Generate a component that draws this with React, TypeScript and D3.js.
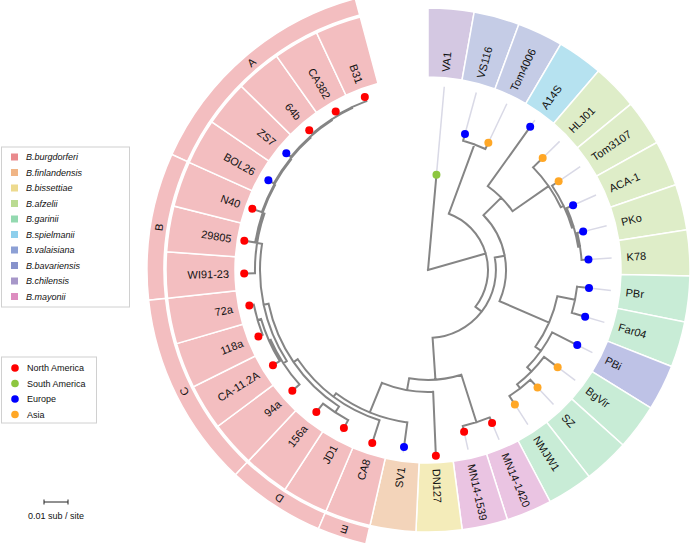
import React from 'react';
import * as d3 from 'd3';

// ---------------- data ----------------
const tipNames = ["VA1","VS116","Tom4006","A14S","HLJ01","Tom3107","ACA-1","PKo","K78","PBr","Far04","PBi","BgVir","SZ","NMJW1","MN14-1420","MN14-1539","DN127","SV1","CA8","JD1","156a","94a","CA-11.2A","118a","72a","WI91-23","29805","N40","BOL26","ZS7","64b","CA382","B31"];
const tipSpecies = ["B.chilensis","B.valaisiana","B.valaisiana","B.spielmanii","B.afzelii","B.afzelii","B.afzelii","B.afzelii","B.afzelii","B.garinii","B.garinii","B.bavariensis","B.garinii","B.garinii","B.garinii","B.mayonii","B.mayonii","B.bissettiae","B.finlandensis","B.burgdorferi","B.burgdorferi","B.burgdorferi","B.burgdorferi","B.burgdorferi","B.burgdorferi","B.burgdorferi","B.burgdorferi","B.burgdorferi","B.burgdorferi","B.burgdorferi","B.burgdorferi","B.burgdorferi","B.burgdorferi","B.burgdorferi"];
const tipRegion = ["South America","Europe","Asia","Europe","Asia","Asia","Europe","Europe","Europe","Europe","Europe","Europe","Asia","Asia","Asia","North America","North America","North America","Europe","North America","North America","North America","North America","North America","North America","North America","North America","North America","North America","Europe","Europe","North America","North America","North America"];

// subtrees (Newick, branch lengths in substitutions / site)
const bbHigh = "(WI91-23:0.0045,(29805:0.0046,(N40:0.0042,(BOL26:0.0026,(ZS7:0.0024,(64b:0.0019,(CA382:0.0015,B31:0.0018):0.0004):0.0004):0.0004):0.0004):0.0004):0.0008)";
const bbLow = "(94a:0.004,(CA-11.2A:0.0033,(118a:0.0019,72a:0.0019):0.0015):0.0008)";
const bbSensuStricto = "(CA8:0.0099,((JD1:0.0038,156a:0.0045):0.0029,(" + bbLow + ":0.0017," + bbHigh + ":0.0021):0.0021):0.0021)";
const northAmerican = "((MN14-1420:0.0025,MN14-1539:0.0025):0.0208,(DN127:0.0267,(SV1:0.0103," + bbSensuStricto + ":0.0017):0.0133):0.005)";
const afzelii = "(HLJ01:0.0056,(Tom3107:0.0033,(ACA-1:0.0029,(PKo:0.0025,K78:0.0029):0.0008):0.0008):0.0013)";
const gariniiGroup = "((PBr:0.005,Far04:0.0058):0.0075,(PBi:0.0117,(BgVir:0.0071,(SZ:0.0044,NMJW1:0.0042):0.0021):0.0025):0.0029)";
const eurasian = "((A14S:0.0304," + afzelii + ":0.0183):0.0104," + gariniiGroup + ":0.0225)";
const newick = "(VA1:0.0398,((VS116:0.0029,Tom4006:0.0029):0.0308,(" + eurasian + ":0.0042," + northAmerican + ":0.0175):0.0033):0.025);";

const cladeNames = ["A","B","C","D","E"];
const cladeFirstTip = ["BOL26","WI91-23","94a","156a","CA8"];
const cladeLastTip = ["B31","N40","72a","JD1","CA8"];

const speciesList = ["B.burgdorferi","B.finlandensis","B.bissettiae","B.afzelii","B.garinii","B.spielmanii","B.valaisiana","B.bavariensis","B.chilensis","B.mayonii"];
const regionList = ["North America","South America","Europe","Asia"];

const scaleBarValue = 0.01;
const scaleBarLabel = "0.01 sub / site";

// ---------------- styles ----------------
const speciesColor: Record<string, string> = {
  "B.burgdorferi": "#E98A8D", "B.finlandensis": "#F0B586", "B.bissettiae": "#EDDA8E", "B.afzelii": "#BADB92",
  "B.garinii": "#93D9B0", "B.spielmanii": "#8ECFEC", "B.valaisiana": "#8DA0D5", "B.bavariensis": "#8792CB",
  "B.chilensis": "#A797C9", "B.mayonii": "#DD8DC0",
};
const ringColor: Record<string, string> = {
  "B.burgdorferi": "#F3BEC0", "B.finlandensis": "#F3D4BA", "B.bissettiae": "#F4ECBA", "B.afzelii": "#DEEDC8",
  "B.garinii": "#C8ECD6", "B.spielmanii": "#B6E2F0", "B.valaisiana": "#C5CCE6", "B.bavariensis": "#BEC2E6",
  "B.chilensis": "#D4C8E2", "B.mayonii": "#EAC4E2",
};
const regionColor: Record<string, string> = {
  "North America": "#FF0000", "South America": "#8DC63F", "Europe": "#0000FF", "Asia": "#FFA726",
};

const W = 691, H = 543;
const CX = 428, CY = 270;
const PX_PER_SUB = 2400;
const OPEN = 15; // open angle in degrees
const R_LABEL_IN = 193, R_LABEL_OUT = 262;
const R_CLADE_IN = 264, R_CLADE_OUT = 281;
const R_ALIGN = 184;
const FONT = "Arial, 'Liberation Sans', Helvetica, sans-serif";

type TNode = { name: string; length: number; children: TNode[] };

function parseNewick(s: string): TNode {
  let i = 0;
  function node(): TNode {
    const n: TNode = { name: "", length: 0, children: [] };
    if (s[i] === "(") {
      i++;
      n.children.push(node());
      while (s[i] === ",") { i++; n.children.push(node()); }
      i++;
    }
    let name = "";
    while (i < s.length && !",():;".includes(s[i])) name += s[i++];
    n.name = name.trim();
    if (s[i] === ":") {
      i++;
      let l = "";
      while (i < s.length && !",();".includes(s[i])) l += s[i++];
      n.length = parseFloat(l);
    }
    return n;
  }
  return node();
}

const rad = (deg: number) => (deg * Math.PI) / 180;
const pt = (ang: number, r: number): [number, number] => [CX + r * Math.sin(rad(ang)), CY - r * Math.cos(rad(ang))];

export default function App() {
  const root = d3.hierarchy<TNode>(parseNewick(newick), (d) => (d.children.length ? d.children : null));
  d3.cluster<TNode>().size([360 - OPEN, 1]).separation(() => 1)(root);
  const radius = new Map<any, number>();
  root.each((n) => {
    radius.set(n, n.parent ? (radius.get(n.parent) as number) + n.data.length * PX_PER_SUB : 0);
  });
  const leaves = root.leaves();
  const step = (360 - OPEN) / leaves.length;
  const tipAngle = new Map<string, number>();
  leaves.forEach((l) => tipAngle.set(l.data.name, l.x as number));

  const branchPaths: string[] = [];
  root.each((n) => {
    const r = radius.get(n) as number;
    const a = n.x as number;
    if (n.parent) {
      const rp = radius.get(n.parent) as number;
      const [x0, y0] = pt(a, rp);
      const [x1, y1] = pt(a, r);
      branchPaths.push(`M${x0},${y0}L${x1},${y1}`);
    }
    if (n.children && n.children.length > 1 && n.parent) {
      const a0 = n.children[0].x as number;
      const a1 = n.children[n.children.length - 1].x as number;
      const [x0, y0] = pt(a0, r);
      const [x1, y1] = pt(a1, r);
      branchPaths.push(`M${x0},${y0}A${r},${r} 0 ${a1 - a0 > 180 ? 1 : 0} 1 ${x1},${y1}`);
    }
  });

  const ringArc = d3.arc<any>();
  const legendY0 = 157, legendDY = 15.5;
  const regionY0 = 368, regionDY = 15.5;

  return (
    <svg width={W} height={H} style={{ position: "absolute", left: 0, top: 0, background: "#fff" }} fontFamily={FONT}>
      {/* tip ring */}
      {tipNames.map((name, i) => {
        const a = tipAngle.get(name) as number;
        return (
          <path key={"seg" + name}
            d={ringArc({ innerRadius: R_LABEL_IN, outerRadius: R_LABEL_OUT, startAngle: rad(a - step / 2), endAngle: rad(a + step / 2) }) as string}
            transform={`translate(${CX},${CY})`} fill={ringColor[tipSpecies[i]]} stroke="#fff" strokeWidth={1.5} />
        );
      })}
      {/* clade ring */}
      {cladeNames.map((c, i) => {
        const t0 = tipAngle.get(cladeFirstTip[i]) as number;
        const t1 = tipAngle.get(cladeLastTip[i]) as number;
        const a0 = Math.min(t0, t1) - step / 2;
        const a1 = Math.max(t0, t1) + step / 2;
        const am = (a0 + a1) / 2;
        const [lx, ly] = pt(am, (R_CLADE_IN + R_CLADE_OUT) / 2);
        return (
          <g key={"clade" + c}>
            <path d={ringArc({ innerRadius: R_CLADE_IN, outerRadius: R_CLADE_OUT, startAngle: rad(a0), endAngle: rad(a1) }) as string}
              transform={`translate(${CX},${CY})`} fill={ringColor["B.burgdorferi"]} stroke="#fff" strokeWidth={1.5} />
            <text x={0} y={0} transform={`translate(${lx},${ly}) rotate(${am})`} textAnchor="middle" dominantBaseline="central" fontSize={11} fill="#111">{c}</text>
          </g>
        );
      })}
      {/* tip labels */}
      {tipNames.map((name) => {
        const a = tipAngle.get(name) as number;
        const right = a < 180;
        const [x, y] = pt(a, 199);
        return (
          <text key={"lab" + name} transform={`translate(${x},${y}) rotate(${right ? a - 90 : a + 90})`}
            textAnchor={right ? "start" : "end"} dominantBaseline="central" fontSize={11} fill="#111">{name}</text>
        );
      })}
      {/* align lines */}
      {leaves.map((l) => {
        const r = radius.get(l) as number;
        if (r >= R_ALIGN - 2) return null;
        const [x0, y0] = pt(l.x as number, r);
        const [x1, y1] = pt(l.x as number, R_ALIGN);
        return <line key={"al" + l.data.name} x1={x0} y1={y0} x2={x1} y2={y1} stroke="#d9d9e6" strokeWidth={1.5} />;
      })}
      {/* branches */}
      <path d={branchPaths.join("")} fill="none" stroke="#858585" strokeWidth={2} strokeLinecap="square" />
      {/* tip points */}
      {leaves.map((l) => {
        const idx = tipNames.indexOf(l.data.name);
        const [x, y] = pt(l.x as number, radius.get(l) as number);
        return <circle key={"pt" + l.data.name} cx={x} cy={y} r={4} fill={regionColor[tipRegion[idx]]} />;
      })}
      {/* species legend */}
      <rect x={1.5} y={147} width={128} height={160} fill="#fff" stroke="#d0d0d0" />
      {speciesList.map((s, i) => (
        <g key={"lg" + s}>
          <rect x={11} y={legendY0 + i * legendDY - 3.5} width={7} height={7} fill={speciesColor[s]} />
          <text x={26} y={legendY0 + i * legendDY} dominantBaseline="central" fontSize={9} fontStyle="italic" fill="#111">{s}</text>
        </g>
      ))}
      {/* region legend */}
      <rect x={1.5} y={357} width={95} height={66} fill="#fff" stroke="#d0d0d0" />
      {regionList.map((s, i) => (
        <g key={"rg" + s}>
          <circle cx={15} cy={regionY0 + i * regionDY} r={3.8} fill={regionColor[s]} />
          <text x={27} y={regionY0 + i * regionDY} dominantBaseline="central" fontSize={9} fill="#111">{s}</text>
        </g>
      ))}
      {/* scale bar */}
      {(() => {
        const len = scaleBarValue * PX_PER_SUB;
        const x0 = 56 - len / 2, x1 = 56 + len / 2, y = 502;
        return (
          <g stroke="#222" strokeWidth={1}>
            <line x1={x0} y1={y} x2={x1} y2={y} />
            <line x1={x0} y1={y - 2.5} x2={x0} y2={y + 2.5} />
            <line x1={x1} y1={y - 2.5} x2={x1} y2={y + 2.5} />
            <text x={56} y={516} stroke="none" fill="#111" fontSize={9} textAnchor="middle" dominantBaseline="central">{scaleBarLabel}</text>
          </g>
        );
      })()}
    </svg>
  );
}
